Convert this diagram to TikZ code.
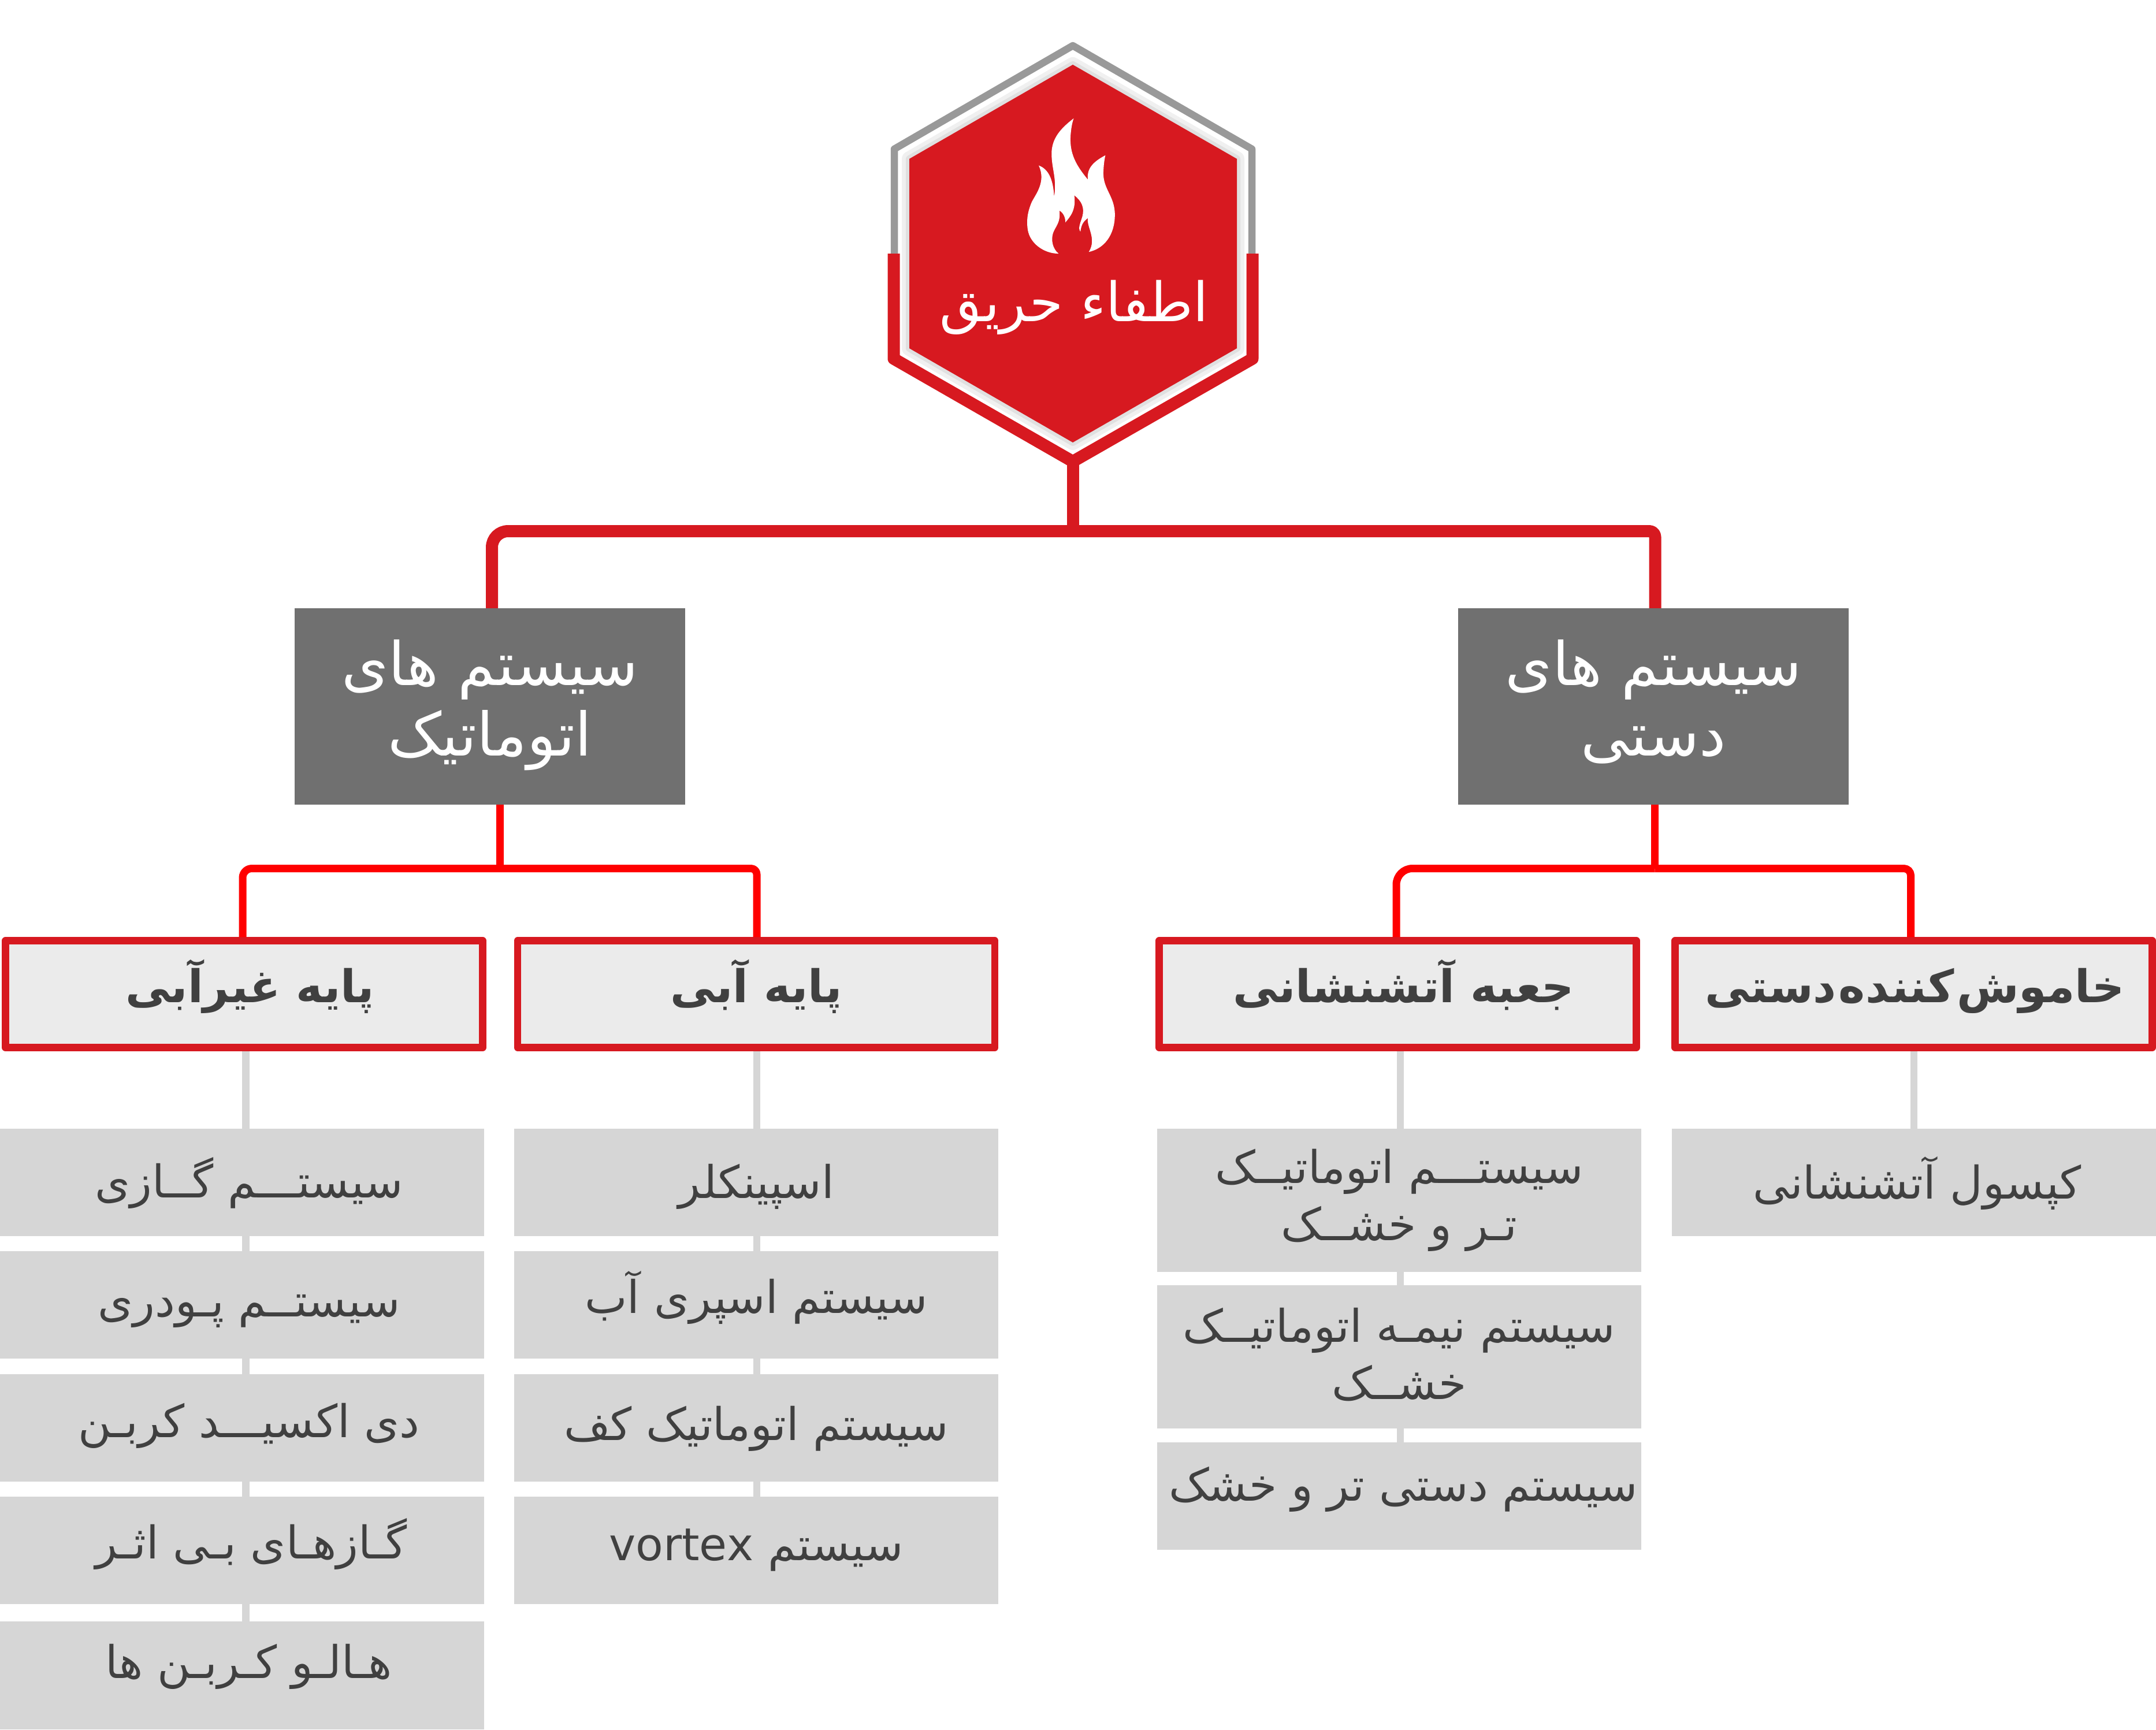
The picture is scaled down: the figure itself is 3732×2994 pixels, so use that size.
\documentclass[tikz,border=0pt]{standalone}
\usepackage{fontspec}
\setmainfont{DejaVu Sans}
\newfontfamily\arabicfont[Script=Arabic]{DejaVu Sans}
\TeXXeTstate=1
\newcommand{\fatext}[1]{{\arabicfont\beginR #1\endR}}
\definecolor{firered}{HTML}{D71920}
\definecolor{linkred}{HTML}{FF0000}
\definecolor{sysgray}{HTML}{707070}
\definecolor{catfill}{HTML}{EBEBEB}
\definecolor{itemgray}{HTML}{D6D6D6}
\definecolor{inkgray}{HTML}{404040}
\definecolor{rimgray}{HTML}{999999}
\tikzset{
  lowered/.style={text height={90bp+#1bp},text depth={90bp-#1bp}},
  sysbox/.style={rectangle,fill=sysgray,text=white,minimum width=676bp,minimum height=340bp,inner sep=0pt,align=center,
    font=\fontsize{104bp}{122bp}\selectfont,lowered=85},
  catbox/.style={rectangle,draw=firered,line width=12.5bp,fill=catfill,text=inkgray,minimum width=826bp,minimum height=185bp,inner sep=0pt,
    font=\fontsize{78bp}{90bp}\selectfont\bfseries,lowered=14},
  itembox/.style={rectangle,fill=itemgray,text=inkgray,minimum width=838bp,inner sep=0pt,align=center,
    font=\fontsize{78bp}{99bp}\selectfont},
  mainlink/.style={draw=firered,line width=21bp},
  sublink/.style={draw=linkred,line width=13bp},
  stublink/.style={draw=itemgray,line width=12.5bp},
}
\begin{document}
\begin{tikzpicture}[x=1bp,y=-1bp,line join=round]
  \useasboundingbox (0,0) rectangle (3732,2994);
  % Node: hexagon
  \draw [draw=rimgray,line width=12.5bp] (1548,439) -- (1548,258) -- (1857,79) -- (2167,258) -- (2167,439);
  \draw [draw=black!6,line width=26bp] (1574,275) -- (1857,112) -- (2141,275) -- (2141,603) -- (1857,766) -- (1574,603) -- cycle;
  \draw [draw=black!12,line width=12bp] (1574,275) -- (1857,112) -- (2141,275) -- (2141,603) -- (1857,766) -- (1574,603) -- cycle;
  \fill [firered] (1574,275) -- (1857,112) -- (2141,275) -- (2141,603) -- (1857,766) -- (1574,603) -- cycle;
  \draw [mainlink] (1547,439) -- (1547,621) -- (1857,799) -- (2168,621) -- (2168,439);
  % Node: flame
  \fill [white,shift={(1480,40)},x=0.4847bp,y=-0.5869bp]
    (781,281) .. controls (735,310) and (702,340) .. (702,385)
    .. controls (702,430) and (722,460) .. (711,512)
    .. controls (708,460) and (690,430) .. (656,420)
    .. controls (685,470) and (640,510) .. (630,530)
    .. controls (615,560) and (612,585) .. (617,610)
    .. controls (625,650) and (675,680) .. (727,680)
    .. controls (705,665) and (700,640) .. (707,620)
    .. controls (715,600) and (735,590) .. (730,553)
    .. controls (745,560) and (752,575) .. (751,588)
    .. controls (770,570) and (790,550) .. (783,508)
    .. controls (810,525) and (820,545) .. (812,570)
    .. controls (805,590) and (795,605) .. (805,615)
    .. controls (808,595) and (815,585) .. (832,575)
    .. controls (825,600) and (865,635) .. (835,675)
    .. controls (890,665) and (928,625) .. (928,565)
    .. controls (928,510) and (885,490) .. (887,440)
    .. controls (888,420) and (890,405) .. (894,390)
    .. controls (860,405) and (825,425) .. (832,462)
    .. controls (790,420) and (765,385) .. (770,330)
    .. controls (772,310) and (775,295) .. (781,281) -- cycle;
  \node (root) [text=white,inner sep=0pt,font=\fontsize{94bp}{100bp}\selectfont,lowered=26] at (1858,530) {\hspace*{2bp}\fatext{اطفاء حریق}};
  % Node: systems
  \node (sysauto) [sysbox] at (848,1223) {\fatext{سیستم های}\\\fatext{اتوماتیک}};
  \node (sysmanual) [sysbox] at (2862,1223) {\fatext{سیستم های}\\\fatext{دستی}};
  % Node: categories
  \node (catnonwater) [catbox] at (422.5,1721) {\hspace*{20bp}\fatext{پایه غیرآبی}};
  \node (catwater) [catbox] at (1309,1721) {\fatext{پایه آبی}};
  \node (catbox) [catbox] at (2419.5,1721) {\hspace*{20bp}\fatext{جعبه آتشنشانی}};
  \node (catportable) [catbox] at (3312.5,1721) {\spaceskip=4bp\hspace*{4bp}\fatext{خاموش کننده دستی}};
  % Node: items, first column
  \node (gas) [itembox,minimum height=186bp,lowered=26] at (419,2047) {\hspace*{24bp}\fatext{سیستـــم گــازی}};
  \node (powder) [itembox,minimum height=186bp,lowered=20] at (419,2259) {\hspace*{24bp}\fatext{سیستــم پـودری}};
  \node (cotwo) [itembox,minimum height=186bp,lowered=16] at (419,2472) {\hspace*{24bp}\fatext{دی اکسیـــد کربـن}};
  \node (inert) [itembox,minimum height=186.5bp,lowered=14] at (419,2684) {\hspace*{32bp}\fatext{گـازهـای بـی اثـر}};
  \node (halo) [itembox,minimum height=187bp,lowered=5] at (419,2900.5) {\hspace*{24bp}\fatext{هـالـو کـربـن ها}};
  % Node: items, second column
  \node (sprinkler) [itembox,minimum height=186bp,lowered=27] at (1309,2047) {\fatext{اسپینکلر}};
  \node (spray) [itembox,minimum height=186bp,lowered=14] at (1309,2259) {\fatext{سیستم اسپری آب}};
  \node (foam) [itembox,minimum height=186bp,lowered=21] at (1309,2472) {\fatext{سیستم اتوماتیک کف}};
  \node (vortex) [itembox,minimum height=186.5bp,lowered=17] at (1309,2684) {\fatext{سیستم \beginL vortex\endL}};
  % Node: items, third column
  \node (wetdry) [itembox,minimum height=248bp,lowered=69] at (2422,2078) {\fatext{سیستـــم اتوماتیــک}\\\fatext{تـر و خشــک}};
  \node (semidry) [itembox,minimum height=248bp,lowered=73] at (2422,2349) {\fatext{سیستم نیمـه اتوماتیــک}\\\fatext{خشــک}};
  \node (handdry) [itembox,minimum height=186bp,lowered=8] at (2422,2590) {\hspace*{14bp}\fatext{سیستم دستی تر و خشک}};
  % Node: items, fourth column
  \node (capsule) [itembox,minimum height=186bp,lowered=28] at (3312.5,2047) {\hspace*{12bp}\fatext{کپسول آتشنشانی}};
  % Edge: hexagon -> systems
  \coordinate (rootfoot) at (1857,799);
  \coordinate (rootjoin) at (1857,919.5);
  \coordinate (autoin) at (851.5,0);
  \coordinate (manualin) at (2865,0);
  \draw [mainlink] (rootfoot) -- (rootjoin);
  \draw [mainlink,rounded corners=28bp] (sysauto.north -| autoin) |- (rootjoin);
  \draw [mainlink,rounded corners=10bp] (rootjoin) -| (sysmanual.north -| manualin);
  % Edge: sysauto -> categories
  \coordinate (autojoin) at (865,1503.5);
  \coordinate (nonwaterin) at (420,0);
  \coordinate (waterin) at (1310,0);
  \draw [sublink] (sysauto.south -| autojoin) -- (autojoin);
  \draw [sublink,rounded corners=16bp] (catnonwater.north -| nonwaterin) |- (autojoin);
  \draw [sublink,rounded corners=10bp] (autojoin) -| (catwater.north -| waterin);
  % Edge: sysmanual -> categories
  \coordinate (manualjoin) at (2864.5,1503.5);
  \coordinate (boxin) at (2417,0);
  \coordinate (portablein) at (3307.5,0);
  \draw [sublink] (sysmanual.south -| manualjoin) -- (manualjoin);
  \draw [sublink,rounded corners=28bp] (catbox.north -| boxin) |- (manualjoin);
  \draw [sublink,rounded corners=12bp] (manualjoin) -| (catportable.north -| portablein);
  % Edge: catnonwater -> items
  \coordinate (stubone) at (425.5,0);
  \draw [stublink] (catnonwater.south -| stubone) -- (gas.north -| stubone);
  \draw [stublink] (gas.south -| stubone) -- (powder.north -| stubone);
  \draw [stublink] (powder.south -| stubone) -- (cotwo.north -| stubone);
  \draw [stublink] (cotwo.south -| stubone) -- (inert.north -| stubone);
  \draw [stublink] (inert.south -| stubone) -- (halo.north -| stubone);
  % Edge: catwater -> items
  \coordinate (stubtwo) at (1310,0);
  \draw [stublink] (catwater.south -| stubtwo) -- (sprinkler.north -| stubtwo);
  \draw [stublink] (sprinkler.south -| stubtwo) -- (spray.north -| stubtwo);
  \draw [stublink] (spray.south -| stubtwo) -- (foam.north -| stubtwo);
  \draw [stublink] (foam.south -| stubtwo) -- (vortex.north -| stubtwo);
  % Edge: catbox -> items
  \coordinate (stubthree) at (2424,0);
  \draw [stublink] (catbox.south -| stubthree) -- (wetdry.north -| stubthree);
  \draw [stublink] (wetdry.south -| stubthree) -- (semidry.north -| stubthree);
  \draw [stublink] (semidry.south -| stubthree) -- (handdry.north -| stubthree);
  % Edge: catportable -> items
  \coordinate (stubfour) at (3313,0);
  \draw [stublink] (catportable.south -| stubfour) -- (capsule.north -| stubfour);
\end{tikzpicture}
\end{document}
